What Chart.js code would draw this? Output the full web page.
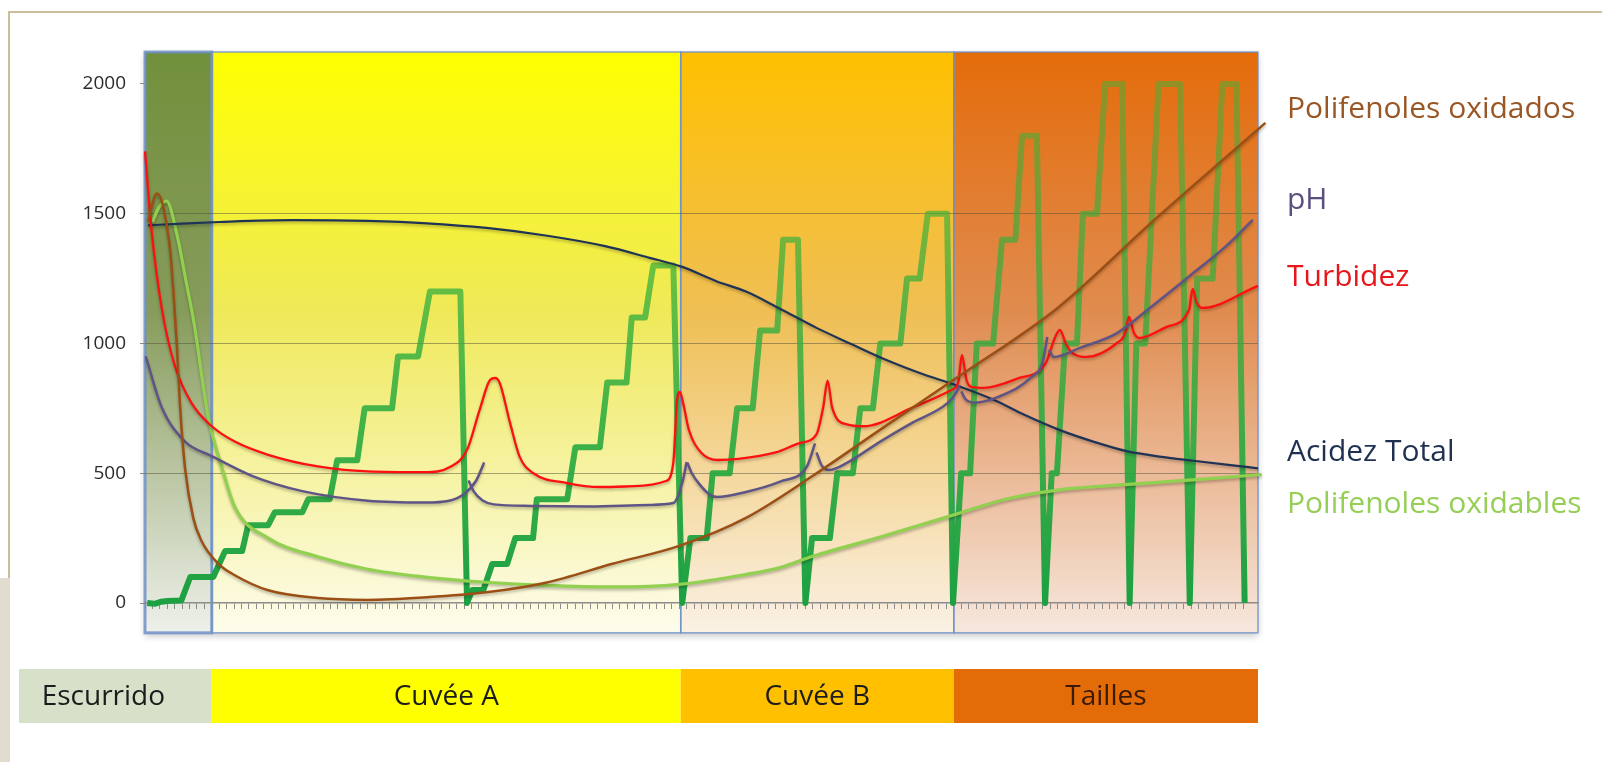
<!DOCTYPE html>
<html>
<head>
<meta charset="utf-8">
<script src="https://cdn.jsdelivr.net/npm/chart.js@4.4.1/dist/chart.umd.min.js"></script>
<style>
  html, body { margin: 0; padding: 0; background: #fff; }
  canvas { display: block; }
</style>
</head>
<body>
<canvas id="chart" width="1602" height="762"></canvas>
<script>
// --- data (x = time units along the pressing cycle) ---
const Y_TICKS = [0, 500, 1000, 1500, 2000];
const Y_MAX = 2123;
const Y_BOX_MIN = -115;

const PHASES = ['Escurrido', 'Cuvée A', 'Cuvée B', 'Tailles'];
const PHASE_EDGES = [0, 9, 72.2, 109, 150];

const SERIES_NAMES = ['Polifenoles oxidados', 'pH', 'Turbidez', 'Acidez Total', 'Polifenoles oxidables'];

const acidezTotal = [
  [0.4, 1455], [5, 1462], [10, 1468], [20, 1475], [30, 1472], [38, 1463], [46, 1445],
  [54, 1416], [62, 1375], [68, 1330], [72.4, 1295], [77, 1240], [81, 1200], [85.5, 1135],
  [90.5, 1060], [95, 1000], [100, 935], [104.5, 885], [109.4, 838], [114.3, 784],
  [118.5, 725], [123.3, 666], [128, 620], [132.3, 585], [137, 563], [141.3, 548],
  [146, 532], [150, 519]
];

const polifenolesOxidados = [
  [0.4, 1470], [1.6, 1578], [2.25, 1549], [2.9, 1460], [3.4, 1357], [3.8, 1210], [4.3, 990],
  [4.7, 769], [5.4, 519], [6.5, 328], [7.6, 240], [9.9, 151], [12.1, 107], [16.6, 49],
  [23.3, 19], [30, 12], [38, 22], [46, 41], [54, 78], [63, 151], [72, 220], [81, 328],
  [90, 490], [99, 666], [109, 860], [123, 1137], [136, 1475], [151, 1850]
];

const polifenolesOxidables = [
  [1.0, 1468], [1.9, 1525], [2.9, 1549], [4.3, 1420], [5.6, 1230], [6.6, 1080], [8.5, 720],
  [10.4, 519], [12.1, 370], [16.6, 250], [23.3, 178], [30, 130], [37.7, 100], [46, 80],
  [54, 68], [63, 62], [72, 72], [81, 110], [85.6, 137], [90, 180], [99.1, 254],
  [109.4, 343], [116, 400], [123, 435], [130, 452], [136, 464], [143, 478], [150.5, 495]
];

const turbidez = [
  [0, 1740], [0.9, 1431], [2.25, 1137], [4, 916], [6.3, 769], [9, 681], [12.1, 622],
  [16.6, 571], [23.3, 526], [30, 507], [37.7, 504], [41.1, 524], [43.4, 590], [45.1, 744],
  [46.5, 859], [47.2, 867], [47.8, 848], [49.2, 694], [50.5, 563], [52.3, 501], [56.9, 462],
  [61.3, 447], [66, 450], [70.2, 470], [71.2, 540], [71.7, 780], [72.1, 813], [72.6, 760],
  [73.3, 667], [75, 578], [77.2, 551], [80, 555], [85, 580], [88.3, 617], [90.5, 650],
  [91.4, 754], [92, 857], [92.6, 754], [94.6, 688], [96.8, 681], [103.5, 754], [108.6, 820],
  [109.6, 850], [110.1, 956], [110.7, 860], [111.5, 832], [113, 829], [117.5, 864],
  [121.4, 925], [122.6, 1020], [123.3, 1052], [124.1, 1000], [125, 963], [126.9, 948],
  [131, 1002], [132.1, 1040], [132.6, 1102], [133.3, 1040], [134, 1021], [137.7, 1064],
  [140.7, 1130], [141.2, 1210], [141.7, 1160], [142.5, 1137], [150, 1222]
];

// pH is drawn as hooked segments (each new segment restarts below the previous tip)
const phSegments = [
  [[0.1, 950], [2.25, 754], [5.4, 622], [9, 566], [14.4, 490], [21.2, 431], [30, 394],
   [37.7, 387], [41, 394], [43, 420], [44.6, 470], [45.4, 520], [45.7, 541]],
  [[43.6, 472], [44.3, 430], [45.5, 395], [47, 380], [52, 374], [60, 372], [68, 378],
   [71.2, 385], [72.4, 462], [73, 543]],
  [[73.1, 540], [73.7, 500], [74.8, 455], [76, 420], [77.1, 408], [81, 428], [85.6, 468],
   [89.2, 526], [90.3, 615]],
  [[90.5, 580], [91.2, 530], [92.2, 512], [94.6, 540], [99.1, 622], [103.5, 696],
   [108.1, 769], [109.3, 810], [109.8, 840]],
  [[110, 815], [110.6, 785], [111.8, 772], [115, 794], [119.5, 871], [121, 930], [121.6, 1025]],
  [[121.8, 975], [122.5, 948], [126, 983], [131, 1040], [136, 1150], [141, 1265],
   [145.5, 1370], [149.3, 1476]]
];

const presion = [
  [0.3, 0], [1.3, -3], [2.2, 5], [3.0, 8], [4.9, 10], [6.1, 100], [9.2, 100], [10.8, 200],
  [13.1, 200], [13.9, 300], [16.6, 300], [17.5, 350], [21.2, 350], [22, 400], [24.9, 400],
  [25.9, 550], [28.6, 550], [29.6, 750], [33.3, 750], [34.1, 950], [36.8, 950], [38.4, 1200],
  [42.5, 1200], [43.4, 0],
  [44.1, 50], [45.6, 50], [46.8, 150], [48.8, 150], [49.9, 250], [52.3, 250], [52.8, 400],
  [56.9, 400], [58, 600], [61.3, 600], [62.3, 850], [64.9, 850], [65.6, 1100], [67.4, 1100],
  [68.5, 1300], [71.2, 1300], [72.4, 0],
  [73.5, 250], [75.7, 250], [76.5, 500], [78.8, 500], [79.8, 750], [81.9, 750], [82.9, 1050],
  [85.2, 1050], [86, 1400], [88, 1400], [89, 0],
  [89.9, 250], [92.3, 250], [93.3, 500], [95.4, 500], [96.4, 750], [98.1, 750], [99.1, 1000],
  [101.8, 1000], [102.7, 1250], [104.4, 1250], [105.5, 1500], [108.1, 1500], [108.9, 0],
  [110, 500], [111.2, 500], [112.1, 1000], [114.3, 1000], [115.5, 1400], [117.3, 1400],
  [118.2, 1800], [120.2, 1800], [121.3, 0],
  [122.2, 500], [122.9, 500], [124, 1000], [125.6, 1000], [126.4, 1500], [128.3, 1500],
  [129.4, 2000], [131.7, 2000], [132.7, 0],
  [133.6, 1000], [134.8, 1000], [136.6, 2000], [139.5, 2000], [140.8, 0],
  [141.8, 1250], [143.9, 1250], [145.2, 2000], [147.1, 2000], [148.2, 0]
];

// value where each series name sits on the right
const LABEL_VALUES = [1900, 1550, 1255, 580, 378];

const LABEL_COLORS = ['#9a5726', '#5b4f80', '#e8151b', '#1f3050', '#95cf55'];
const BAND_SHADES = [
  ['#71903b', '#879c5c', '#eef0ea'],
  ['#ffff00', '#efe95a', '#fdfcec'],
  ['#ffc000', '#efbf55', '#faf1e5'],
  ['#e46c0a', '#e08c50', '#f6e7dd']
];
const BAR_COLORS = ['#d7e1c9', '#ffff00', '#ffc000', '#e36c09'];
const BAR_TEXT = ['#1c1c1c', '#1c1c1c', '#1c1c1c', '#3b1a05'];

const FONT = "'Open Sans', sans-serif";
Chart.defaults.font.family = FONT;

const toPoints = pairs => pairs.map(([x, y]) => ({ x, y }));
const joinSegments = segs =>
  segs.flatMap((seg, i) => (i ? [{ x: seg[0][0], y: null }] : []).concat(toPoints(seg)));

const presionColor = context => {
  const { chart } = context;
  if (!chart.chartArea) return '#2aa847';
  const y0 = chart.scales.y.getPixelForValue(0);
  const y1 = chart.scales.y.getPixelForValue(2000);
  const g = chart.ctx.createLinearGradient(0, y0, 0, y1);
  g.addColorStop(0, 'rgba(28,160,66,1)');
  g.addColorStop(0.3, 'rgba(40,170,62,0.9)');
  g.addColorStop(1, 'rgba(62,178,55,0.5)');
  return g;
};

const backdrop = {
  id: 'backdrop',
  beforeDraw(chart) {
    const { ctx, chartArea, scales: { x, y } } = chart;
    const top = chartArea.top;
    const bottom = y.getPixelForValue(Y_BOX_MIN);
    const left = x.getPixelForValue(PHASE_EDGES[0]);
    const right = x.getPixelForValue(PHASE_EDGES[PHASE_EDGES.length - 1]);

    ctx.save();
    // slide frame
    ctx.strokeStyle = '#c9bf9c';
    ctx.lineWidth = 2;
    ctx.beginPath();
    ctx.moveTo(9, 578);
    ctx.lineTo(9, 12);
    ctx.lineTo(chart.width, 12);
    ctx.stroke();
    ctx.fillStyle = 'rgba(200,190,170,0.55)';
    ctx.fillRect(0, 578, 10, chart.height - 578);

    // box shadow
    ctx.save();
    ctx.shadowColor = 'rgba(0,0,0,0.22)';
    ctx.shadowBlur = 7;
    ctx.shadowOffsetY = 3;
    ctx.fillStyle = '#fff';
    ctx.fillRect(left, top, right - left, bottom - top);
    ctx.restore();

    PHASES.forEach((name, i) => {
      const l = x.getPixelForValue(PHASE_EDGES[i]);
      const r = x.getPixelForValue(PHASE_EDGES[i + 1]);
      const grad = ctx.createLinearGradient(0, top, 0, bottom);
      const [c0, c1, c2] = BAND_SHADES[i];
      grad.addColorStop(0, c0);
      grad.addColorStop(0.45, c1);
      grad.addColorStop(1, c2);
      ctx.fillStyle = grad;
      ctx.fillRect(l, top, r - l, bottom - top);
    });

    ctx.strokeStyle = 'rgba(110,145,200,0.85)';
    PHASES.forEach((name, i) => {
      const l = x.getPixelForValue(PHASE_EDGES[i]);
      const r = x.getPixelForValue(PHASE_EDGES[i + 1]);
      ctx.lineWidth = i === 0 ? 3 : 1.5;
      ctx.strokeRect(l, top, r - l, bottom - top);
    });
    ctx.restore();
  },
  afterDraw(chart) {
    const { ctx, chartArea, scales: { x, y } } = chart;
    ctx.save();

    // series names
    ctx.font = `30px ${FONT}`;
    ctx.textBaseline = 'middle';
    ctx.textAlign = 'left';
    SERIES_NAMES.forEach((name, i) => {
      ctx.fillStyle = LABEL_COLORS[i];
      ctx.fillText(name, chartArea.right + 29, y.getPixelForValue(LABEL_VALUES[i]));
    });

    // phase bar under the chart
    const barTop = 669;
    const barH = 54;
    ctx.font = `28px ${FONT}`;
    ctx.textAlign = 'center';
    PHASES.forEach((name, i) => {
      const l = i === 0 ? 19 : x.getPixelForValue(PHASE_EDGES[i]);
      const r = x.getPixelForValue(PHASE_EDGES[i + 1]);
      ctx.fillStyle = BAR_COLORS[i];
      ctx.fillRect(l, barTop, r - l, barH);
      ctx.fillStyle = BAR_TEXT[i];
      const cx = i === 0 ? (l + r) / 2 - 12 : (l + r) / 2;
      ctx.fillText(name, cx, barTop + barH / 2 + 1);
    });
    ctx.restore();
  }
};

const lineShadow = {
  id: 'lineShadow',
  beforeDatasetDraw(chart, args) {
    const ctx = chart.ctx;
    ctx.save();
    if (args.meta.dataset && chart.data.datasets[args.index].shadow) {
      ctx.shadowColor = 'rgba(0,0,0,0.28)';
      ctx.shadowBlur = 3;
      ctx.shadowOffsetY = 2;
    }
  },
  afterDatasetDraw(chart) {
    chart.ctx.restore();
  }
};

const curve = (label, data, color, width) => ({
  label,
  data,
  borderColor: color,
  borderWidth: width,
  cubicInterpolationMode: 'monotone',
  pointRadius: 0,
  spanGaps: false,
  shadow: true,
  clip: 12
});

new Chart(document.getElementById('chart').getContext('2d'), {
  type: 'line',
  data: {
    datasets: [
      curve(SERIES_NAMES[0], toPoints(polifenolesOxidados), '#9c4f14', 2.5),
      curve(SERIES_NAMES[1], joinSegments(phSegments), '#5f5486', 2.5),
      curve(SERIES_NAMES[2], toPoints(turbidez), '#ff1010', 2.3),
      curve(SERIES_NAMES[3], toPoints(acidezTotal), '#1f3356', 2.2),
      curve(SERIES_NAMES[4], toPoints(polifenolesOxidables), '#92d050', 3.2),
      {
        label: 'Presión',
        data: toPoints(presion),
        borderColor: presionColor,
        borderWidth: 6,
        borderJoinStyle: 'round',
        tension: 0,
        pointRadius: 0,
        clip: 12
      }
    ]
  },
  options: {
    responsive: false,
    devicePixelRatio: 1,
    animation: false,
    layout: { padding: { top: 52, right: 344, bottom: 129, left: 0 } },
    plugins: { legend: { display: false }, tooltip: { enabled: false } },
    scales: {
      x: {
        type: 'linear',
        min: PHASE_EDGES[0],
        max: PHASE_EDGES[PHASE_EDGES.length - 1],
        afterBuildTicks: s => { s.ticks = s.ticks.filter(t => t.value <= 148); },
        afterFit: s => { s.height = 30; },
        ticks: { stepSize: 1, display: false },
        grid: { drawOnChartArea: false, drawTicks: true, tickLength: 6, color: '#8c8c8c' },
        border: { display: true, color: '#8c8c8c', width: 1.5 }
      },
      y: {
        min: 0,
        max: Y_MAX,
        afterBuildTicks: s => { s.ticks = Y_TICKS.map(value => ({ value })); },
        afterFit: s => { s.width = 145; },
        ticks: {
          color: '#2b2b2b',
          font: { size: 19 },
          padding: 14,
          callback: value => String(value)
        },
        grid: {
          color: c => (c.tick && (c.tick.value === 0 || c.tick.value === 2000))
            ? 'rgba(0,0,0,0)' : 'rgba(80,80,60,0.5)',
          tickColor: '#8c8c8c',
          tickLength: 5,
          lineWidth: 1
        },
        border: { display: false }
      }
    }
  },
  plugins: [backdrop, lineShadow]
});
</script>
</body>
</html>
